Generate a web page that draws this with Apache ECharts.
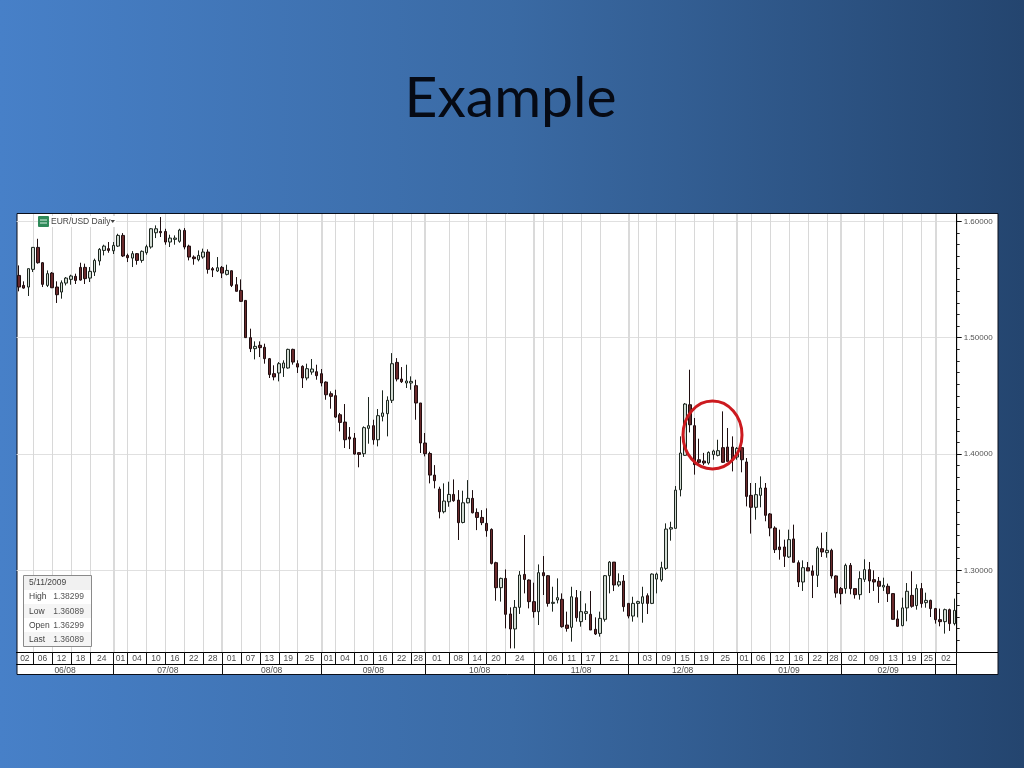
<!DOCTYPE html>
<html>
<head>
<meta charset="utf-8">
<style>html,body{margin:0;padding:0;background:#3a6aa5}#c{width:1024px;height:768px}</style>
<script src="https://cdn.jsdelivr.net/npm/echarts@6/dist/echarts.min.js"></script>
</head>
<body>
<div id="c"></div>
<script>
const open = [
1.5536,1.5450,1.5436,1.5588,1.5777,1.5645,1.5450,1.5556,1.5436,1.5393,
1.5470,1.5502,1.5528,1.5605,1.5605,1.5513,1.5565,1.5660,1.5751,1.5766,
1.5748,1.5788,1.5880,1.5708,1.5685,1.5723,1.5665,1.5731,1.5780,1.5903,
1.5914,1.5914,1.5823,1.5846,1.5829,1.5923,1.5788,1.5694,1.5671,1.5694,
1.5737,1.5594,1.5574,1.5605,1.5545,1.5576,1.5456,1.5407,1.5321,1.5001,
1.4906,1.4935,1.4918,1.4820,1.4691,1.4697,1.4740,1.4740,1.4900,1.4777,
1.4754,1.4654,1.4705,1.4708,1.4691,1.4619,1.4519,1.4502,1.4338,1.4275,
1.4146,1.4138,1.4012,1.4003,1.4221,1.4244,1.4123,1.4324,1.4347,1.4462,
1.4788,1.4645,1.4611,1.4611,1.4588,1.4439,1.4095,1.4005,1.3819,1.3699,
1.3504,1.3590,1.3653,1.3604,1.3412,1.3581,1.3619,1.3498,1.3455,1.3404,
1.3352,1.3066,1.2851,1.2931,1.2625,1.2496,1.2682,1.2965,1.2917,1.2731,
1.2645,1.2980,1.2954,1.2716,1.2745,1.2751,1.2530,1.2510,1.2765,1.2559,
1.2630,1.2622,1.2493,1.2458,1.2579,1.2954,1.3071,1.2874,1.2908,1.2716,
1.2607,1.2716,1.2716,1.2782,1.2716,1.2925,1.2917,1.3017,1.3355,1.3361,
1.3693,1.3989,1.4424,1.4244,1.3951,1.3940,1.3923,1.3995,1.3989,1.4055,
1.4060,1.4060,1.3974,1.4055,1.3932,1.3645,1.3542,1.3645,1.3708,1.3485,
1.3364,1.3201,1.3201,1.3115,1.3270,1.3066,1.2900,1.3023,1.2995,1.2957,
1.3186,1.3152,1.3172,1.2952,1.2843,1.2843,1.3043,1.2843,1.2791,1.2923,
1.3006,1.2920,1.2906,1.2857,1.2863,1.2800,1.2582,1.2525,1.2677,1.2785,
1.2697,1.2843,1.2722,1.2742,1.2671,1.2576,1.2559,1.2662,1.2542];
const close = [
1.5436,1.5427,1.5594,1.5777,1.5645,1.5459,1.5551,1.5430,1.5370,1.5473,
1.5513,1.5531,1.5493,1.5496,1.5508,1.5571,1.5665,1.5760,1.5788,1.5751,
1.5794,1.5880,1.5703,1.5688,1.5723,1.5665,1.5743,1.5783,1.5937,1.5937,
1.5903,1.5823,1.5857,1.5857,1.5926,1.5780,1.5694,1.5680,1.5708,1.5737,
1.5588,1.5582,1.5602,1.5556,1.5579,1.5450,1.5399,1.5313,1.5001,1.4906,
1.4926,1.4915,1.4820,1.4683,1.4663,1.4777,1.4783,1.4900,1.4791,1.4748,
1.4654,1.4734,1.4731,1.4674,1.4611,1.4510,1.4496,1.4318,1.4272,1.4123,
1.4129,1.4000,1.3997,1.4227,1.4244,1.4123,1.4330,1.4353,1.4462,1.4777,
1.4645,1.4622,1.4628,1.4625,1.4439,1.4095,1.4003,1.3819,1.3771,1.3504,
1.3596,1.3653,1.3599,1.3410,1.3581,1.3619,1.3495,1.3455,1.3410,1.3341,
1.3060,1.2851,1.2931,1.2622,1.2496,1.2682,1.2960,1.2922,1.2731,1.2645,
1.2980,1.2954,1.2716,1.2725,1.2765,1.2516,1.2501,1.2773,1.2593,1.2645,
1.2645,1.2487,1.2453,1.2587,1.2954,1.3071,1.2874,1.2902,1.2688,1.2607,
1.2716,1.2731,1.2773,1.2716,1.2968,1.2968,1.3023,1.3355,1.3367,1.3690,
1.4009,1.4430,1.4252,1.3909,1.3929,1.3923,1.4014,1.4026,1.4029,1.3929,
1.3937,1.3951,1.4049,1.3951,1.3636,1.3542,1.3651,1.3708,1.3473,1.3364,
1.3178,1.3178,1.3121,1.3264,1.3069,1.2900,1.3023,1.2995,1.2957,1.3192,
1.3158,1.3172,1.2952,1.2805,1.2800,1.3043,1.2843,1.2791,1.2929,1.3006,
1.2909,1.2900,1.2863,1.2871,1.2800,1.2579,1.2519,1.2677,1.2820,1.2691,
1.2843,1.2714,1.2742,1.2671,1.2576,1.2559,1.2662,1.2542,1.2656];
const low = [
1.5399,1.5422,1.5359,1.5565,1.5637,1.5436,1.5436,1.5427,1.5299,1.5336,
1.5450,1.5456,1.5462,1.5491,1.5462,1.5479,1.5531,1.5622,1.5708,1.5731,
1.5720,1.5780,1.5694,1.5651,1.5608,1.5628,1.5645,1.5714,1.5766,1.5857,
1.5866,1.5800,1.5780,1.5800,1.5817,1.5760,1.5665,1.5628,1.5657,1.5680,
1.5551,1.5522,1.5565,1.5513,1.5536,1.5436,1.5399,1.5307,1.4998,1.4877,
1.4814,1.4834,1.4777,1.4654,1.4634,1.4625,1.4663,1.4734,1.4769,1.4697,
1.4568,1.4634,1.4682,1.4639,1.4582,1.4467,1.4390,1.4310,1.4195,1.4052,
1.4043,1.3995,1.3886,1.3975,1.4089,1.4081,1.4066,1.4281,1.4152,1.4439,
1.4625,1.4611,1.4568,1.4553,1.4295,1.4009,1.3980,1.3748,1.3705,1.3447,
1.3490,1.3547,1.3590,1.3261,1.3404,1.3576,1.3490,1.3346,1.3389,1.3289,
1.3051,1.2739,1.2731,1.2501,1.2329,1.2329,1.2625,1.2802,1.2673,1.2593,
1.2530,1.2788,1.2688,1.2645,1.2716,1.2507,1.2473,1.2387,1.2559,1.2516,
1.2573,1.2487,1.2444,1.2430,1.2559,1.2802,1.2822,1.2859,1.2645,1.2587,
1.2559,1.2596,1.2550,1.2625,1.2710,1.2802,1.2902,1.3003,1.3255,1.3361,
1.3636,1.3986,1.4186,1.3823,1.3909,1.3905,1.3909,1.3951,1.3980,1.3923,
1.3937,1.3851,1.3951,1.3843,1.3550,1.3316,1.3436,1.3542,1.3422,1.3293,
1.3149,1.3092,1.3029,1.3107,1.3069,1.2857,1.2823,1.2995,1.2762,1.2857,
1.3115,1.3109,1.2929,1.2765,1.2708,1.2800,1.2794,1.2757,1.2748,1.2900,
1.2805,1.2823,1.2720,1.2823,1.2728,1.2576,1.2513,1.2519,1.2562,1.2679,
1.2662,1.2679,1.2679,1.2599,1.2542,1.2519,1.2456,1.2479,1.2527];
const high = [
1.5622,1.5485,1.5594,1.5780,1.5851,1.5651,1.5579,1.5565,1.5485,1.5493,
1.5522,1.5542,1.5551,1.5645,1.5637,1.5608,1.5680,1.5771,1.5800,1.5823,
1.5823,1.5894,1.5900,1.5723,1.5745,1.5728,1.5751,1.5800,1.5943,1.5966,
1.6038,1.5937,1.5886,1.5880,1.5937,1.5943,1.5800,1.5708,1.5751,1.5766,
1.5760,1.5608,1.5694,1.5617,1.5628,1.5579,1.5522,1.5502,1.5321,1.5078,
1.4969,1.4969,1.4949,1.4826,1.4763,1.4791,1.4806,1.4906,1.4906,1.4806,
1.4763,1.4777,1.4817,1.4768,1.4731,1.4625,1.4539,1.4553,1.4353,1.4430,
1.4232,1.4181,1.4015,1.4238,1.4490,1.4295,1.4387,1.4548,1.4496,1.4868,
1.4825,1.4748,1.4768,1.4668,1.4639,1.4439,1.4181,1.4020,1.3905,1.3719,
1.3748,1.3762,1.3782,1.3690,1.3685,1.3776,1.3690,1.3533,1.3518,1.3533,
1.3361,1.3074,1.2937,1.3008,1.2682,1.2745,1.2994,1.3304,1.2922,1.2894,
1.3051,1.3123,1.2960,1.2859,1.2931,1.2802,1.2645,1.2859,1.2831,1.2822,
1.2716,1.2822,1.2596,1.2645,1.2960,1.3080,1.3071,1.2974,1.2960,1.2716,
1.2773,1.2739,1.2859,1.2802,1.2974,1.2980,1.3074,1.3404,1.3418,1.3725,
1.4152,1.4439,1.4725,1.4310,1.4132,1.4010,1.4023,1.4037,1.4123,1.4367,
1.4224,1.4152,1.4060,1.4060,1.3966,1.3751,1.3751,1.3808,1.3751,1.3493,
1.3379,1.3350,1.3264,1.3350,1.3393,1.3086,1.3086,1.3072,1.3043,1.3207,
1.3324,1.3330,1.3186,1.2957,1.2857,1.3058,1.3063,1.2843,1.2992,1.3095,
1.3072,1.3000,1.2943,1.2937,1.2886,1.2800,1.2656,1.2765,1.2891,1.2992,
1.2880,1.2891,1.2808,1.2748,1.2677,1.2671,1.2671,1.2671,1.2757];

// trading-day index of each date-row cell boundary, and the label in each cell
const dayEdges = [-0.5,3,7,11,15,20,23,27,31,35,39,43,47,51,55,59,64,67,71,75,79,83,86,91,95,99,103,109,111,115,119,123,129,131,135,139,143,147,152,155,159,163,167,171,174,179,183,187,191,194,198.5];
const dayLabels = ['02','06','12','18','24','01','04','10','16','22','28','01','07','13','19','25','01','04','10','16','22','28','01','08','14','20','24','','06','11','17','21','','03','09','15','19','25','01','06','12','16','22','28','02','09','13','19','25','02'];
const monthEdges = [-0.5,20,43,64,86,109,129,152,174,194,198.5];
const monthLabels = ['06/08','07/08','08/08','09/08','10/08','11/08','12/08','01/09','02/09',''];
const priceTicks = [1.3,1.4,1.5,1.6];
const priceMinorTicks = [1.23,1.24,1.25,1.26,1.27,1.28,1.29,1.31,1.32,1.33,1.34,1.35,1.36,1.37,1.38,1.39,1.41,1.42,1.43,1.44,1.45,1.46,1.47,1.48,1.49,1.51,1.52,1.53,1.54,1.55,1.56,1.57,1.58,1.59];
const infoRows = [['5/11/2009',''],['High','1.38299'],['Low','1.36089'],['Open','1.36299'],['Last','1.36089']];

const yMin = 1.2298, yMax = 1.6064;
const categories = open.map((_, i) => i);
const candles = open.map((o, i) => [o, close[i], low[i], high[i]]);
const mids = e => e.slice(0, -1).map((v, i) => (v + e[i + 1]) / 2);
const labelsAt = (edges, labels) => { const m = new Map(); mids(edges).forEach((v, i) => m.set(v, labels[i])); return v => m.get(v) ?? ''; };
const valueX = { type: 'value', min: -0.5, max: 198.5, position: 'bottom', gridIndex: 0 };
const labelFont = { fontFamily: 'Liberation Sans', fontSize: 8.5, color: '#4a4a4a' };
const blackLine = { show: true, onZero: false, lineStyle: { color: '#000' } };

const Z = 20;
const infoGraphics = [
  { type: 'rect', z: Z, silent: true, shape: { x: 23.5, y: 575.5, width: 68, height: 71 }, style: { fill: '#fff', stroke: '#8a8a8a', lineWidth: 1 } },
  { type: 'rect', z: Z, silent: true, shape: { x: 24, y: 576, width: 67, height: 14 }, style: { fill: '#f1f1f1' } },
  { type: 'rect', z: Z, silent: true, shape: { x: 24, y: 604, width: 67, height: 14 }, style: { fill: '#f5f5f5' } },
  { type: 'rect', z: Z, silent: true, shape: { x: 24, y: 632, width: 67, height: 14 }, style: { fill: '#f5f5f5' } }
];
infoRows.forEach((r, i) => {
  const y = 583 + i * 14.1;
  infoGraphics.push({ type: 'text', z: Z + 1, silent: true, style: { x: 29, y, text: r[0], font: '8.5px "Liberation Sans"', fill: '#444', verticalAlign: 'middle' } });
  if (r[1]) infoGraphics.push({ type: 'text', z: Z + 1, silent: true, style: { x: 84, y, text: r[1], font: '8.5px "Liberation Sans"', fill: '#555', align: 'right', verticalAlign: 'middle' } });
});

const chart = echarts.init(document.getElementById('c'), null, { renderer: 'canvas' });
chart.setOption({
  animation: false,
  backgroundColor: new echarts.graphic.LinearGradient(0, 0, 1, 0, [
    { offset: 0, color: '#4780c8' }, { offset: 0.5, color: '#3a6aa4' }, { offset: 1, color: '#24456f' }
  ]),
  title: { text: 'Example', left: 505.5, top: 65, textAlign: 'center',
    textStyle: { fontFamily: 'Lato', fontSize: 57, fontWeight: 'normal', color: '#060a14' } },
  grid: { left: 16.6, top: 214, width: 940.1, height: 438, containLabel: false },
  xAxis: [
    { type: 'category', data: categories, gridIndex: 0, position: 'bottom',
      axisLine: blackLine, axisTick: { show: false }, axisLabel: { show: false }, splitLine: { show: false } },
    { ...valueX, axisLine: blackLine,
      axisTick: { show: true, length: 12, customValues: dayEdges.slice(1), lineStyle: { color: '#111' } },
      splitLine: { show: true, lineStyle: { color: '#d8d8d8', width: 1 } },
      axisLabel: { ...labelFont, margin: 2, customValues: mids(dayEdges), formatter: labelsAt(dayEdges, dayLabels), hideOverlap: false } },
    { ...valueX, offset: 12, axisLine: blackLine,
      axisTick: { show: true, length: 11, customValues: monthEdges.slice(1), lineStyle: { color: '#111' } },
      splitLine: { show: true, lineStyle: { color: '#dadada', width: 2 } },
      axisLabel: { ...labelFont, margin: 2, customValues: mids(monthEdges), formatter: labelsAt(monthEdges, monthLabels), hideOverlap: false } }
  ],
  yAxis: [
    { type: 'value', min: yMin, max: yMax, position: 'right', scale: true,
      axisLine: blackLine,
      axisTick: { show: true, length: 5, customValues: priceTicks, lineStyle: { color: '#111' } },
      axisLabel: { fontFamily: 'Liberation Sans', fontSize: 8, color: '#555', margin: 7, customValues: priceTicks, formatter: v => v.toFixed(5) },
      splitLine: { show: true, lineStyle: { color: '#e0e0e0', width: 1 } } },
    { type: 'value', min: yMin, max: yMax, position: 'right', scale: true,
      axisLine: { show: false, onZero: false }, axisLabel: { show: false }, splitLine: { show: false },
      axisTick: { show: true, length: 3, customValues: priceMinorTicks, lineStyle: { color: '#222' } } }
  ],
  series: [{
    type: 'candlestick', xAxisIndex: 0, yAxisIndex: 0, data: candles, barWidth: 3,
    itemStyle: { color: '#d3dcd4', color0: '#6a2a2c', borderColor: '#1c261f', borderColor0: '#1f0e10', borderWidth: 1 }
  }],
  graphic: [
    { type: 'rect', z: -10, silent: true, shape: { x: 17, y: 213.5, width: 981, height: 461 }, style: { fill: '#fff', stroke: '#0a0f1a', lineWidth: 1 } },
    { type: 'line', z: 5, silent: true, shape: { x1: 957, y1: 652.5, x2: 998, y2: 652.5 }, style: { stroke: '#000', lineWidth: 1 } },
    ...infoGraphics,
    { type: 'rect', z: Z, silent: true, shape: { x: 38, y: 216, width: 11, height: 11, r: 1 }, style: { fill: '#2f8a5a' } },
    { type: 'line', z: Z, silent: true, shape: { x1: 40, y1: 220, x2: 47, y2: 220 }, style: { stroke: '#d8efe2', lineWidth: 1 } },
    { type: 'line', z: Z, silent: true, shape: { x1: 40, y1: 223, x2: 47, y2: 223 }, style: { stroke: '#d8efe2', lineWidth: 1 } },
    { type: 'rect', z: Z, silent: true, shape: { x: 50, y: 216, width: 66, height: 11 }, style: { fill: '#fff' } },
    { type: 'text', z: Z + 1, silent: true, style: { x: 51, y: 221.5, text: 'EUR/USD Daily', font: '8.5px "Liberation Sans"', fill: '#444', verticalAlign: 'middle' } },
    { type: 'polygon', z: Z + 1, silent: true, shape: { points: [[110.5, 220], [115, 220], [112.75, 223]] }, style: { fill: '#444' } },
    { type: 'ellipse', z: 30, silent: true, shape: { cx: 712.5, cy: 435, rx: 29.5, ry: 34 }, style: { fill: 'none', stroke: '#cc1a1f', lineWidth: 3 } }
  ]
});
</script>
</body>
</html>
